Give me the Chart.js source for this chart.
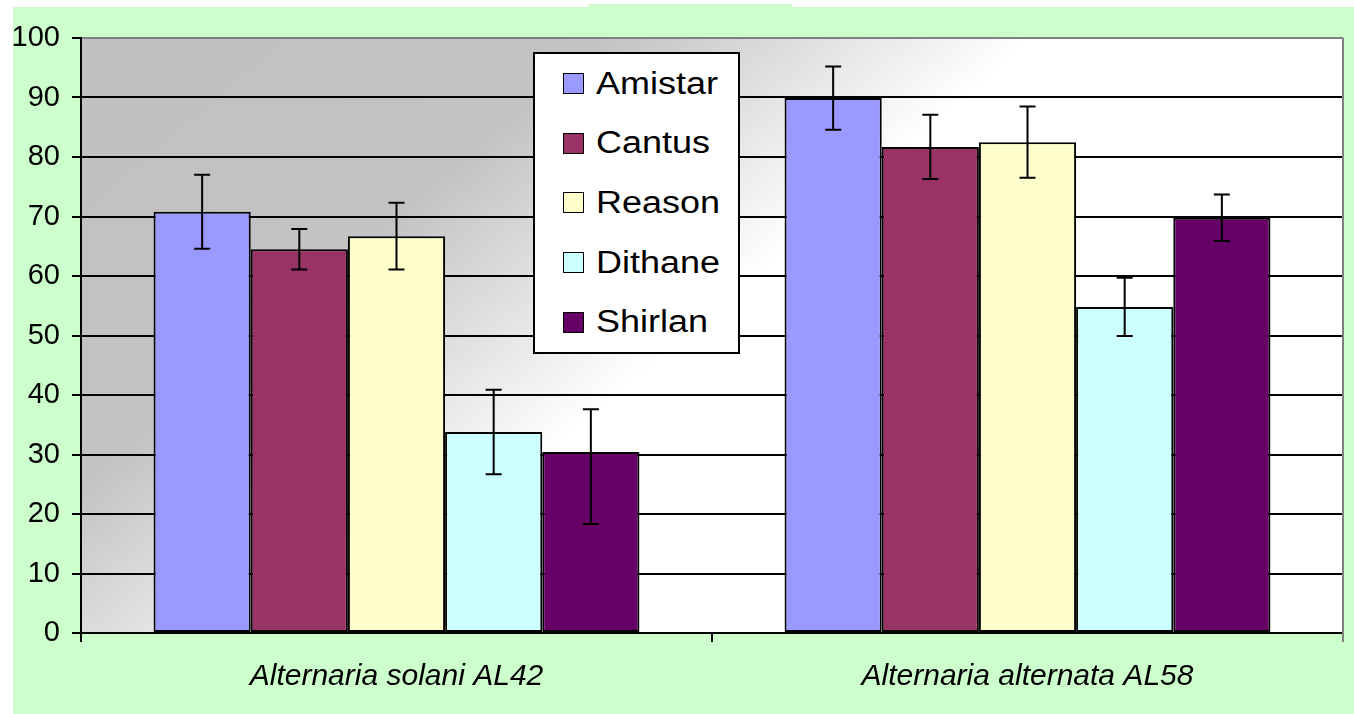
<!DOCTYPE html>
<html>
<head>
<meta charset="utf-8">
<script src="https://cdn.jsdelivr.net/npm/chart.js@4.4.1/dist/chart.umd.min.js"></script>
<style>
    html, body { margin: 0; padding: 0; background: #fff; }
    body { width: 1354px; height: 714px; position: relative; overflow: hidden; font-family: 'Liberation Sans', Arial, sans-serif; }
    #wrap { position: absolute; left: 13px; top: 7px; width: 1341px; height: 707px; }
    #tab { position: absolute; left: 589px; top: 4px; width: 203px; height: 3px; background: #ccffcc; }
    #legend { position: absolute; left: 533px; top: 52px; width: 203px; height: 298px; border: 2px solid #000; background: #fff; }
    .row { height: 59.6px; display: flex; align-items: center; }
    .sw { width: 19px; height: 19px; border: 1.5px solid #000; margin-left: 28px; margin-right: 12px; flex: none; }
    .lbl { font-size: 31px; color: #000; display: inline-block; transform: scaleX(1.16); transform-origin: left center; white-space: nowrap; }
</style>
</head>
<body>
<div id="tab"></div>
<div id="wrap"><canvas id="chart"></canvas></div>
<div id="legend"></div>
<script>
const categories = ['Alternaria solani AL42', 'Alternaria alternata AL58'];
const seriesNames = ['Amistar', 'Cantus', 'Reason', 'Dithane', 'Shirlan'];

const amistar = [70.8, 89.9];
const cantus = [64.5, 81.7];
const reason = [66.7, 82.5];
const dithane = [33.8, 54.8];
const shirlan = [30.4, 69.8];

// error bar extents above / below the bar top
const amistarUp = [6.2, 5.3],  amistarDown = [6.2, 5.3];
const cantusUp = [3.4, 5.4],   cantusDown = [3.4, 5.4];
const reasonUp = [5.6, 6.0],   reasonDown = [5.6, 6.0];
const dithaneUp = [7.1, 4.9],  dithaneDown = [7.1, 4.9];
const shirlanUp = [7.2, 3.9],  shirlanDown = [12.1, 3.9];

const yTicks = [0, 10, 20, 30, 40, 50, 60, 70, 80, 90, 100];

const colors = ['#9999ff', '#993366', '#ffffcc', '#ccffff', '#660066'];
const values = [amistar, cantus, reason, dithane, shirlan];
const errUp = [amistarUp, cantusUp, reasonUp, dithaneUp, shirlanUp];
const errDown = [amistarDown, cantusDown, reasonDown, dithaneDown, shirlanDown];

const datasets = seriesNames.map((name, i) => ({
    label: name,
    data: values[i],
    errUp: errUp[i],
    errDown: errDown[i],
    backgroundColor: colors[i],
    borderColor: '#000',
    borderWidth: 2,
    borderSkipped: false,
    barPercentage: 1,
    categoryPercentage: 0.77
}));

// green page, gradient plot area, gray right border
const backdrop = {
    id: 'backdrop',
    beforeDraw(chart) {
        const { ctx, chartArea: a } = chart;
        ctx.save();
        ctx.fillStyle = '#ccffcc';
        ctx.fillRect(0, 0, chart.width, chart.height);
        const dx = 0.65, dy = 0.76, len = 620;
        const g = ctx.createLinearGradient(a.left, a.top, a.left + dx * len, a.top + dy * len);
        g.addColorStop(0, '#c0c0c0');
        g.addColorStop(0.55, '#c3c3c3');
        g.addColorStop(0.8, '#e4e4e4');
        g.addColorStop(1, '#ffffff');
        ctx.fillStyle = g;
        ctx.fillRect(a.left, a.top, a.right - a.left, a.bottom - a.top);
        ctx.restore();
    },
    beforeDatasetsDraw(chart) {
        const { ctx, chartArea: a } = chart;
        ctx.save();
        ctx.strokeStyle = '#808080';
        ctx.lineWidth = 2;
        ctx.beginPath();
        ctx.moveTo(a.right, a.top);
        ctx.lineTo(a.right, a.bottom + 9);
        ctx.stroke();
        ctx.restore();
    }
};

const errorBars = {
    id: 'errorBars',
    afterDatasetsDraw(chart) {
        const { ctx } = chart;
        const y = chart.scales.y;
        ctx.save();
        ctx.strokeStyle = '#000';
        ctx.lineWidth = 2;
        chart.data.datasets.forEach((ds, i) => {
            chart.getDatasetMeta(i).data.forEach((bar, j) => {
                const v = ds.data[j];
                const top = y.getPixelForValue(v + ds.errUp[j]);
                const bot = y.getPixelForValue(v - ds.errDown[j]);
                ctx.beginPath();
                ctx.moveTo(bar.x, top); ctx.lineTo(bar.x, bot);
                ctx.moveTo(bar.x - 8, top); ctx.lineTo(bar.x + 8, top);
                ctx.moveTo(bar.x - 8, bot); ctx.lineTo(bar.x + 8, bot);
                ctx.stroke();
            });
        });
        ctx.restore();
    }
};

new Chart(document.getElementById('chart'), {
    type: 'bar',
    data: { labels: categories, datasets: datasets },
    options: {
        responsive: true,
        maintainAspectRatio: false,
        animation: false,
        layout: { padding: { top: 31, right: 11, left: 0, bottom: 0 } },
        plugins: { legend: { display: false }, tooltip: { enabled: false } },
        scales: {
            x: {
                afterFit: (s) => { s.height = 81; },
                grid: { offset: true, drawOnChartArea: false, color: '#000', lineWidth: 2, tickLength: 9 },
                border: { color: '#000', width: 2 },
                ticks: {
                    color: '#000', padding: 17,
                    font: { family: "'Liberation Sans', Arial", size: 30, style: 'italic' }
                }
            },
            y: {
                min: 0, max: 100,
                afterFit: (s) => { s.width = 68; },
                afterBuildTicks: (s) => { s.ticks = yTicks.map(v => ({ value: v })); },
                grid: {
                    color: (c) => c.tick && c.tick.value === 100 ? '#808080' : '#000',
                    lineWidth: 2, tickLength: 9, tickColor: '#000'
                },
                border: { color: '#000', width: 2 },
                ticks: {
                    color: '#000', padding: 12,
                    font: { family: "'Liberation Sans', Arial", size: 29 }
                }
            }
        }
    },
    plugins: [backdrop, errorBars]
});

const legend = document.getElementById('legend');
seriesNames.forEach((name, i) => {
    const row = document.createElement('div');
    row.className = 'row';
    row.innerHTML = `<div class="sw" style="background:${colors[i]}"></div><span class="lbl">${name}</span>`;
    legend.appendChild(row);
});
</script>
</body>
</html>
